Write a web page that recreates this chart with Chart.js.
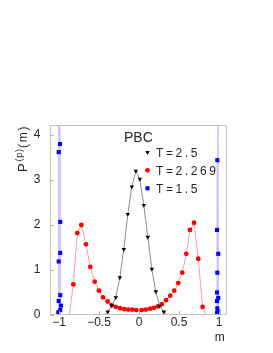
<!DOCTYPE html>
<html><head><meta charset="utf-8">
<script src="https://cdn.jsdelivr.net/npm/chart.js@4.4.1/dist/chart.umd.min.js"></script>
<style>html,body{margin:0;padding:0;background:#fff;} #wrap{width:273px;height:353px;}</style>
</head><body><div id="wrap"><canvas id="c" width="273" height="353"></canvas></div>
<script>
// ---- data ----
const xTicks = [-1, -0.5, 0, 0.5, 1];
const xTickLabels = ['\u22121', '\u22120.5', '0', '0.5', '1'];
const yTicks = [0, 1, 2, 3, 4];
const yTickLabels = ['0', '1', '2', '3', '4'];
const seriesNames = ['T=2.5', 'T=2.269', 'T=1.5'];
const annotation = 'PBC';
const xTitle = 'm';
const yTitleMain = 'P';
const yTitleSup = '(p)';
const yTitleTail = '(m)';
const xRange = [-1.1125, 1.1];
const yRange = [0, 4.222];

// T=2.5 (black triangles)
const mBlack = [-0.49, -0.44, -0.39, -0.34, -0.29, -0.24, -0.19, -0.14, -0.09, -0.04, 0.01, 0.06, 0.11, 0.16, 0.21, 0.26, 0.31, 0.36, 0.41, 0.46];
const pBlack = [0, 0, 0.07, 0.21, 0.39, 0.83, 1.46, 2.24, 2.85, 3.2, 3.02, 2.44, 1.73, 1.02, 0.52, 0.2, 0.07, 0, 0, 0];

// T=2.269 (red circles)
const mRed = [-0.871, -0.821, -0.771, -0.721, -0.663, -0.609, -0.554, -0.5, -0.45, -0.391, -0.341, -0.291, -0.2375, -0.184, -0.134, -0.084, -0.034,
              0.034, 0.084, 0.1375, 0.1875, 0.2375, 0.284, 0.3375, 0.391, 0.441, 0.491, 0.541, 0.591, 0.6375, 0.6875, 0.741, 0.796, 0.8375];
const pRed = [0, 0.68, 1.82, 2.0, 1.57, 1.07, 0.74, 0.54, 0.39, 0.3, 0.22, 0.18, 0.15, 0.13, 0.12, 0.12, 0.11,
              0.11, 0.12, 0.14, 0.16, 0.19, 0.24, 0.33, 0.43, 0.54, 0.71, 0.94, 1.36, 1.89, 2.05, 1.25, 0.18, 0];

// T=1.5 (blue squares), listed in drawing order
const mBlue = [-1.009, -1.004, -1.004, -1.004, -1.0, -0.9875, -0.984, -0.984, -0.984, -0.984, -0.975,
               0.975, 0.979, 0.975, 0.975, 0.979, 0.975, 0.979, 0.985, 0.991, 0.991, 0.991];
const pBlue = [0.06, 0.31, 1.19, 3.62, 9.5, 3.8, 2.07, 1.38, 0.44, 0.11, 0.21,
               0.05, 0.15, 0.31, 0.5, 0.94, 1.89, 3.44, 9.5, 1.36, 0.38, 0.07];
// split blue into two branches (left peak, right peak)
const blueSplit = 11;

const pts = (ms, ps) => ms.map((x, i) => ({x: x, y: ps[i]}));
const visR = r => (ctx) => (ctx.raw && ctx.raw.y > 0) ? r : 0;

const FONT = 'Liberation Sans, Arial, Helvetica, sans-serif';
const TXT = '#262626';

const decor = {
  id: 'decor',
  afterDraw(chart) {
    const ctx = chart.ctx, a = chart.chartArea;
    const xs = chart.scales.x, ys = chart.scales.y;
    ctx.save();
    // frame
    ctx.strokeStyle = '#c4c4c4';
    ctx.lineWidth = 1;
    ctx.strokeRect(Math.round(a.left) + 0.5, Math.round(a.top) + 0.5, Math.round(a.right - a.left) - 1, Math.round(a.bottom - a.top) - 1);
    // inner ticks
    ctx.strokeStyle = '#b4b4b4';
    ctx.beginPath();
    yTicks.forEach(v => { const y = Math.round(ys.getPixelForValue(v)) + 0.5; ctx.moveTo(a.left, y); ctx.lineTo(a.left + 4, y); });
    xTicks.forEach(v => { const x = Math.round(xs.getPixelForValue(v)) + 0.5; ctx.moveTo(x, a.bottom); ctx.lineTo(x, a.bottom - 4); });
    ctx.stroke();

    ctx.fillStyle = TXT;
    ctx.textBaseline = 'alphabetic';
    ctx.textAlign = 'left';
    // annotation
    ctx.font = '14px ' + FONT;
    ctx.fillText(annotation, 124, 141.7);
    // legend
    const ly = [152.3, 170.3, 188.3];
    const lb = [156.7, 175, 193.3];
    const styles = [
      {pointStyle: 'triangle', rotation: 180, radius: 2.6, color: '#000'},
      {pointStyle: 'circle', rotation: 0, radius: 2.4, color: '#ff0000'},
      {pointStyle: 'rect', rotation: 0, radius: 2.9, color: '#0000ff'}
    ];
    styles.forEach((s, i) => {
      ctx.fillStyle = s.color; ctx.strokeStyle = s.color;
      Chart.helpers.drawPoint(ctx, {pointStyle: s.pointStyle, rotation: s.rotation, radius: s.radius, borderWidth: 0}, 147.5, ly[i]);
    });
    ctx.fillStyle = TXT;
    ctx.font = '12px ' + FONT;
    ctx.letterSpacing = '2.6px';
    seriesNames.forEach((n, i) => ctx.fillText(n, 156, lb[i]));
    ctx.letterSpacing = '0px';
    // x title
    ctx.font = '12px ' + FONT;
    ctx.textAlign = 'center';
    ctx.fillText(xTitle, 219.7, 340.7);
    // y title (rotated)
    ctx.save();
    ctx.translate(26.7, 172);
    ctx.rotate(-Math.PI / 2);
    ctx.textAlign = 'left';
    ctx.font = '13px ' + FONT;
    ctx.fillText(yTitleMain, 0, 0);
    ctx.font = '9px ' + FONT;
    ctx.letterSpacing = '0.8px';
    ctx.fillText(yTitleSup, 10.5, -5);
    ctx.font = '12px ' + FONT;
    ctx.letterSpacing = '1.8px';
    ctx.fillText(yTitleTail, 24, 0);
    ctx.restore();
    ctx.restore();
  }
};

new Chart(document.getElementById('c'), {
  type: 'line',
  data: {
    datasets: [
      {
        label: seriesNames[0], data: pts(mBlack, pBlack),
        borderColor: '#8c8c8c', borderWidth: 1, backgroundColor: '#000', pointBackgroundColor: '#000',
        pointStyle: 'triangle', pointRotation: 180, pointRadius: visR(2.6), pointBorderWidth: 0,
        tension: 0, fill: false, clip: 0
      },
      {
        label: seriesNames[1], data: pts(mRed, pRed),
        borderColor: '#ff9c9c', borderWidth: 1, backgroundColor: '#ff0000', pointBackgroundColor: '#ff0000',
        pointStyle: 'circle', pointRadius: visR(2.4), pointBorderWidth: 0,
        tension: 0, fill: false, clip: 0
      },
      {
        label: seriesNames[2], data: pts(mBlue.slice(0, blueSplit), pBlue.slice(0, blueSplit)),
        borderColor: 'rgba(80,80,255,0.3)', borderWidth: 1.5, backgroundColor: '#0000ff', pointBackgroundColor: '#0000ff',
        pointStyle: 'rect', pointRadius: visR(2.9), pointBorderWidth: 0,
        tension: 0, fill: false, clip: 0
      },
      {
        label: seriesNames[2] + ' ', data: pts(mBlue.slice(blueSplit), pBlue.slice(blueSplit)),
        borderColor: 'rgba(80,80,255,0.3)', borderWidth: 1.5, backgroundColor: '#0000ff', pointBackgroundColor: '#0000ff',
        pointStyle: 'rect', pointRadius: visR(2.9), pointBorderWidth: 0,
        tension: 0, fill: false, clip: 0
      }
    ]
  },
  options: {
    responsive: false,
    animation: false,
    events: [],
    layout: {padding: {top: 125, right: 46, left: 0, bottom: 0}},
    plugins: {legend: {display: false}, tooltip: {enabled: false}},
    scales: {
      x: {
        type: 'linear', min: xRange[0], max: xRange[1],
        afterBuildTicks: s => { s.ticks = xTicks.map(v => ({value: v})); },
        afterFit: s => { s.height = 38; },
        grid: {display: false, drawTicks: false},
        border: {display: false},
        ticks: {
          callback: v => xTickLabels[xTicks.indexOf(v)],
          font: {family: FONT, size: 12}, color: TXT, padding: 0, maxRotation: 0, autoSkip: false
        }
      },
      y: {
        type: 'linear', min: yRange[0], max: yRange[1],
        afterBuildTicks: s => { s.ticks = yTicks.map(v => ({value: v})); },
        afterFit: s => { s.width = 50; },
        grid: {display: false, drawTicks: false},
        border: {display: false},
        ticks: {
          callback: v => yTickLabels[yTicks.indexOf(v)],
          font: {family: FONT, size: 12}, color: TXT, padding: 9.5, autoSkip: false
        }
      }
    }
  },
  plugins: [decor]
});
</script>
</body></html>
